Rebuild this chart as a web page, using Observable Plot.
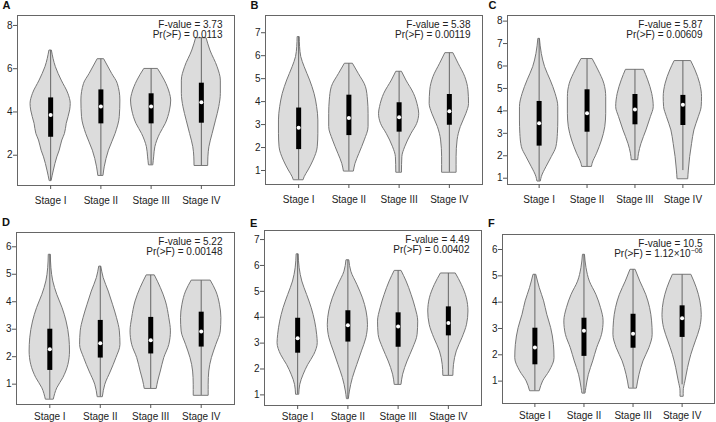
<!DOCTYPE html>
<html><head><meta charset="utf-8">
<script src="https://cdn.jsdelivr.net/npm/d3@7"></script>
<script src="https://cdn.jsdelivr.net/npm/@observablehq/plot@0.6"></script>
<style>
body{margin:0;background:#fff}
#wrap{position:relative;width:716px;height:422px;font-family:"Liberation Sans",Arial,sans-serif;overflow:hidden}
.cell{position:absolute}
.lab{position:absolute;font-weight:bold;font-size:11px;line-height:11px;color:#111}
</style></head><body><div id="wrap"></div>
<script>
// ---------- data ----------
const stages = ["Stage I", "Stage II", "Stage III", "Stage IV"];
const panelLetters = ["A", "B", "C", "D", "E", "F"];
const fValues = ["3.73", "5.38", "5.87", "5.22", "4.49", "10.5"];
// p-values: [mantissa text, exponent text or null]
const pValues = [["0.0113", null], ["0.00119", null], ["0.00609", null], ["0.00148", null], ["0.00402", null], ["1.12×10", "−06"]];

const yTicksA = [2, 4, 6, 8];
const yTicksB = [1, 2, 3, 4, 5, 6, 7];
const yTicksC = [1, 2, 3, 4, 5, 6, 7, 8];
const yTicksD = [1, 2, 3, 4, 5, 6];
const yTicksE = [1, 2, 3, 4, 5, 6, 7];
const yTicksF = [1, 2, 3, 4, 5, 6];

// box statistics per stage: Q1, median, Q3, whisker low, whisker high
const q1A = [2.83, 3.45, 3.45, 3.48], medA = [3.86, 4.25, 4.25, 4.45], q3A = [4.65, 5.02, 4.84, 5.33];
const loA = [0.82, 1.06, 1.55, 1.52], hiA = [6.84, 6.44, 5.99, 7.41];
const q1B = [1.91, 2.52, 2.67, 2.97], medB = [2.86, 3.29, 3.32, 3.58], q3B = [3.72, 4.28, 3.95, 4.31];
const loB = [0.59, 0.97, 0.92, 0.92], hiB = [6.81, 5.65, 5.30, 6.11];
const q1C = [2.43, 3.05, 3.38, 3.35], medC = [3.45, 3.90, 4.06, 4.27], q3C = [4.42, 4.94, 4.73, 4.69];
const loC = [0.87, 1.52, 1.82, 1.34], hiC = [7.21, 6.31, 5.83, 6.22];
const q1D = [1.50, 1.95, 2.10, 2.35], medD = [2.27, 2.49, 2.60, 2.92], q3D = [3.00, 3.32, 3.43, 3.62];
const loD = [0.45, 0.54, 0.84, 0.59], hiD = [5.71, 5.28, 4.96, 4.77];
const q1E = [2.61, 3.04, 2.84, 3.28], medE = [3.19, 3.69, 3.64, 3.78], q3E = [3.96, 4.25, 4.17, 4.40];
const loE = [1.02, 0.85, 1.40, 1.75], hiE = [6.43, 6.20, 5.79, 5.69];
const q1F = [1.62, 1.94, 2.25, 2.66], medF = [2.28, 2.91, 2.80, 3.39], q3F = [3.01, 3.39, 3.54, 3.86];
const loF = [0.63, 0.54, 0.73, 0.86], hiF = [5.04, 5.80, 5.23, 5.04];

// violin density profiles: [value, relative width] per stage
const violinsA = [
  [[6.84,0.06],[6.07,0.26],[5.45,0.55],[4.84,0.88],[4.37,1.0],[4.07,0.97],[3.45,0.8],[2.98,0.71],[2.68,0.58],[2.21,0.45],[1.9,0.33],[1.29,0.16],[0.82,0.05]],
  [[6.44,0.16],[5.76,0.56],[5.3,0.84],[4.53,0.97],[3.76,0.94],[2.98,0.73],[2.21,0.4],[1.44,0.19],[1.06,0.13]],
  [[5.99,0.34],[5.45,0.68],[4.84,0.94],[4.53,1.0],[4.07,0.94],[3.45,0.73],[2.98,0.45],[2.37,0.21],[1.9,0.15],[1.55,0.11]],
  [[7.41,0.26],[6.84,0.45],[6.07,0.81],[5.45,0.97],[4.84,0.97],[4.22,0.89],[3.6,0.73],[2.98,0.56],[2.37,0.4],[1.9,0.35],[1.52,0.34]]
];
const violinsB = [
  [[6.81,0.05],[6.38,0.07],[5.94,0.13],[5.5,0.3],[4.92,0.57],[4.34,0.79],[3.76,0.92],[3.18,0.98],[2.6,0.98],[2.01,0.95],[1.43,0.74],[1.0,0.49],[0.71,0.3],[0.59,0.25]],
  [[5.65,0.2],[5.21,0.49],[4.63,0.85],[4.05,0.95],[3.47,0.98],[2.89,0.98],[2.31,0.79],[1.72,0.52],[1.29,0.33],[0.97,0.25]],
  [[5.3,0.14],[4.92,0.36],[4.34,0.74],[3.76,0.95],[3.47,1.0],[3.03,0.9],[2.6,0.62],[2.01,0.3],[1.58,0.16],[0.92,0.14]],
  [[6.11,0.2],[5.65,0.46],[5.07,0.79],[4.49,0.95],[3.9,0.98],[3.47,0.85],[2.89,0.57],[2.31,0.41],[1.58,0.36],[0.92,0.36]]
];
const violinsC = [
  [[7.21,0.04],[6.54,0.14],[5.95,0.31],[5.36,0.6],[4.76,0.86],[4.17,1.0],[3.57,1.0],[2.98,0.98],[2.38,0.9],[1.94,0.66],[1.49,0.38],[1.05,0.14],[0.87,0.09]],
  [[6.31,0.29],[5.8,0.6],[5.21,0.9],[4.61,1.0],[3.87,1.0],[3.27,0.95],[2.68,0.78],[2.09,0.52],[1.64,0.29],[1.52,0.26]],
  [[5.83,0.47],[5.36,0.69],[4.76,0.9],[4.17,0.98],[3.72,0.83],[3.13,0.6],[2.53,0.34],[2.09,0.21],[1.82,0.17]],
  [[6.22,0.43],[5.8,0.66],[5.21,0.9],[4.61,1.0],[4.17,0.98],[3.72,0.83],[3.13,0.6],[2.53,0.48],[1.94,0.38],[1.34,0.31],[0.97,0.28]]
];
const violinsD = [
  [[5.71,0.05],[5.22,0.08],[4.74,0.17],[4.25,0.37],[3.77,0.63],[3.28,0.83],[2.67,0.97],[2.19,1.0],[1.7,0.92],[1.22,0.67],[0.85,0.37],[0.45,0.2]],
  [[5.28,0.05],[4.86,0.17],[4.37,0.42],[3.89,0.63],[3.4,0.83],[2.92,0.97],[2.43,1.0],[1.95,0.8],[1.46,0.53],[0.98,0.25],[0.54,0.13]],
  [[4.96,0.2],[4.5,0.5],[4.01,0.75],[3.4,0.92],[2.92,1.0],[2.43,0.92],[1.95,0.67],[1.46,0.5],[1.1,0.37],[0.84,0.3]],
  [[4.77,0.47],[4.37,0.75],[3.89,0.93],[3.4,1.0],[2.92,0.97],[2.43,0.75],[1.95,0.53],[1.46,0.4],[0.98,0.37],[0.59,0.37]]
];
const violinsE = [
  [[6.43,0.05],[5.89,0.1],[5.38,0.23],[4.86,0.47],[4.35,0.7],[3.83,0.87],[3.32,0.97],[3.0,1.0],[2.55,0.83],[2.16,0.53],[1.78,0.3],[1.39,0.13],[1.02,0.08]],
  [[6.2,0.07],[5.76,0.17],[5.25,0.47],[4.73,0.75],[4.22,0.93],[3.71,1.0],[3.19,0.92],[2.68,0.7],[2.16,0.47],[1.65,0.25],[1.13,0.1],[0.85,0.05]],
  [[5.79,0.17],[5.38,0.42],[4.86,0.67],[4.35,0.87],[3.83,1.0],[3.32,0.97],[2.8,0.75],[2.29,0.47],[1.78,0.25],[1.4,0.17]],
  [[5.69,0.37],[5.25,0.67],[4.73,0.92],[4.22,1.0],[3.71,0.93],[3.19,0.7],[2.68,0.42],[2.16,0.28],[1.75,0.25]]
];
const violinsF = [
  [[5.04,0.07],[4.53,0.25],[4.03,0.47],[3.52,0.63],[3.01,0.83],[2.38,0.97],[1.87,1.0],[1.37,0.75],[0.99,0.42],[0.63,0.25]],
  [[5.8,0.05],[5.29,0.13],[4.78,0.3],[4.28,0.63],[3.77,0.87],[3.27,1.0],[2.76,0.92],[2.25,0.67],[1.75,0.47],[1.24,0.25],[0.73,0.12],[0.54,0.08]],
  [[5.23,0.13],[4.78,0.37],[4.28,0.67],[3.77,0.87],[3.27,0.97],[2.76,1.0],[2.25,0.83],[1.75,0.53],[1.24,0.33],[0.73,0.2]],
  [[5.04,0.47],[4.53,0.75],[4.03,0.93],[3.52,1.0],[3.01,0.92],[2.51,0.7],[2.0,0.47],[1.49,0.3],[0.99,0.17],[0.61,0.08],[0.42,0.08]]
];

// ---------- layout (frame edges in page px, y axis limits) ----------
const layout = [
  {fl: 17,  fr: 234, ft: 15,  fb: 185, ydom: [0.60, 8.46], lx: 2.5, ly: 0, xpad: 7.5},
  {fl: 265, fr: 482, ft: 15,  fb: 184, ydom: [0.39, 7.75], lx: 250.5, ly: 0, xpad: 7.5},
  {fl: 507, fr: 714, ft: 15,  fb: 184, ydom: [0.72, 8.25], lx: 488.5, ly: 0, xpad: 7.5},
  {fl: 16,  fr: 234, ft: 232, fb: 404, ydom: [0.26, 6.52], lx: 2, ly: 217, xpad: 4},
  {fl: 264, fr: 481, ft: 230, fb: 405, ydom: [0.59, 7.35], lx: 250, ly: 218, xpad: 3.5},
  {fl: 502, fr: 714, ft: 234, fb: 403, ydom: [0.15, 6.57], lx: 488, ly: 218, xpad: 4.5}
];

const panels = [
  {ticks: yTicksA, q1: q1A, med: medA, q3: q3A, lo: loA, hi: hiA, v: violinsA},
  {ticks: yTicksB, q1: q1B, med: medB, q3: q3B, lo: loB, hi: hiB, v: violinsB},
  {ticks: yTicksC, q1: q1C, med: medC, q3: q3C, lo: loC, hi: hiC, v: violinsC},
  {ticks: yTicksD, q1: q1D, med: medD, q3: q3D, lo: loD, hi: hiD, v: violinsD},
  {ticks: yTicksE, q1: q1E, med: medE, q3: q3E, lo: loE, hi: hiE, v: violinsE},
  {ticks: yTicksF, q1: q1F, med: medF, q3: q3F, lo: loF, hi: hiF, v: violinsF}
];

const HALF = 0.4; // max violin half-width in category units
const wrap = document.getElementById("wrap");
const ML = 30, MR = 2, MT = 15, MB = 26;

panels.forEach((p, k) => {
  const L = layout[k];
  const rows = [];
  p.v.forEach((prof, s) => {
    d3.sort(prof, d => d[0]).forEach(([v, w]) => rows.push({s, v, w}));
  });
  const stats = stages.map((st, s) => ({pos: s + 1, q1: p.q1[s], med: p.med[s], q3: p.q3[s], lo: p.lo[s], hi: p.hi[s]}));
  const [mant, expo] = pValues[k];
  const chart = Plot.plot({
    width: (L.fr - L.fl) + ML + MR,
    height: (L.fb - L.ft) + MT + MB,
    marginLeft: ML, marginRight: MR, marginTop: MT, marginBottom: MB,
    style: {fontFamily: '"Liberation Sans", Arial, sans-serif', fontSize: "10px", color: "#222", background: "transparent", overflow: "visible"},
    x: {domain: [0.34, 4.66]},
    y: {domain: L.ydom},
    marks: [
      Plot.areaX(rows, {
        y: "v",
        x1: d => d.s + 1 - d.w * HALF,
        x2: d => d.s + 1 + d.w * HALF,
        z: "s",
        fill: "#dcdcdc",
        stroke: "#777",
        strokeWidth: 1,
        curve: "monotone-y"
      }),
      Plot.ruleX(stats, {x: "pos", y1: "lo", y2: "hi", stroke: "#666", strokeWidth: 1}),
      Plot.ruleX(stats, {x: "pos", y1: "q1", y2: "q3", stroke: "#000", strokeWidth: 5}),
      Plot.dot(stats, {x: "pos", y: "med", r: 2, fill: "#fff", stroke: null}),
      Plot.frame({stroke: "#666"}),
      Plot.axisY({ticks: p.ticks, tickFormat: d3.format("d"), tickSize: 4, tickPadding: 1, label: null, stroke: "#555"}),
      Plot.axisX({ticks: [1, 2, 3, 4], tickFormat: i => stages[i - 1], tickSize: 4, tickPadding: L.xpad, label: null, stroke: "#555"}),
      Plot.text([`F-value = ${fValues[k]}\nPr(>F) = ${mant}`], {
        frameAnchor: "top-right", dx: -12, dy: 5, lineAnchor: "top", lineHeight: 1, fontSize: 10, fill: "#222",
        className: "stat-text"
      })
    ]
  });
  if (expo) {
    // attach a superscript exponent to the second line of the statistic text
    const tspans = chart.querySelectorAll(".stat-text tspan");
    const line2 = tspans[tspans.length - 1];
    if (line2) {
      const sup = document.createElementNS("http://www.w3.org/2000/svg", "tspan");
      sup.setAttribute("font-size", "7");
      sup.setAttribute("dy", "-3.5");
      sup.textContent = expo;
      line2.appendChild(sup);
    }
  }
  const cell = document.createElement("div");
  cell.className = "cell";
  cell.style.left = (L.fl - ML) + "px";
  cell.style.top = (L.ft - MT) + "px";
  cell.appendChild(chart);
  wrap.appendChild(cell);

  const lab = document.createElement("div");
  lab.className = "lab";
  lab.style.left = L.lx + "px";
  lab.style.top = L.ly + "px";
  lab.textContent = panelLetters[k];
  wrap.appendChild(lab);
});
</script></body></html>
